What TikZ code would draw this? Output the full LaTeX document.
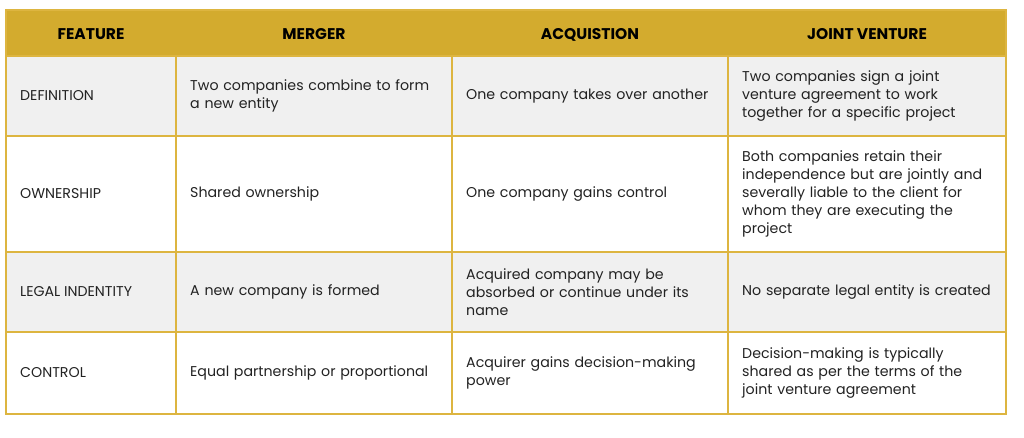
\documentclass[tikz,border=0pt]{standalone}
\usepackage{fontspec}
\setmainfont{Poppins}
\definecolor{gold}{HTML}{D3AB2E}
\definecolor{goldline}{HTML}{DDB540}
\definecolor{rowgray}{HTML}{F0F0F0}
\definecolor{txt}{HTML}{222222}
\begin{document}
\begin{tikzpicture}[x=1pt,y=-1pt,
  cell/.style={anchor=west,align=left,text=txt,font=\fontsize{14.2}{18}\selectfont,inner sep=0pt},
  head/.style={anchor=base,text=black,font=\fontsize{15.5}{18}\selectfont\bfseries,inner sep=0pt}]
\useasboundingbox (0,0) rectangle (1024,437);
\fill[gold] (6,10) rectangle (1006,56);
\fill[rowgray] (6,56) rectangle (1006,136);
\fill[rowgray] (6,252) rectangle (1006,332);
\draw[goldline,line width=1.3pt] (6,10) rectangle (1006,414);
\foreach \y in {56,136,252,332} \draw[goldline,line width=1.3pt] (6,\y) -- (1006,\y);
\foreach \x in {176,452,728} \draw[goldline,line width=1.3pt] (\x,56) -- (\x,414);
\node[head] (h1) at (91,39) {FEATURE};
\node[head] (h2) at (314,39) {MERGER};
\node[head] (h3) at (590,39) {ACQUISTION};
\node[head] (h4) at (867,39) {JOINT VENTURE};
\node[cell] (a1) at (20,96) {DEFINITION};
\node[cell,text width=255pt] (b1) at (190,96) {Two companies combine to form\\a new entity};
\node[cell,text width=258pt] (c1) at (466,96) {One company takes over another};
\node[cell,text width=262pt] (d1) at (742,96) {Two companies sign a joint\\venture agreement to work\\together for a specific project};
\node[cell] (a2) at (20,194) {OWNERSHIP};
\node[cell,text width=255pt] (b2) at (190,194) {Shared ownership};
\node[cell,text width=258pt] (c2) at (466,194) {One company gains control};
\node[cell,text width=262pt] (d2) at (742,194) {Both companies retain their\\independence but are jointly and\\severally liable to the client for\\whom they are executing the\\project};
\node[cell] (a3) at (20,292) {LEGAL INDENTITY};
\node[cell,text width=255pt] (b3) at (190,292) {A new company is formed};
\node[cell,text width=258pt] (c3) at (466,292) {Acquired company may be\\absorbed or continue under its\\name};
\node[cell,text width=262pt] (d3) at (742,292) {No separate legal entity is created};
\node[cell] (a4) at (20,373) {CONTROL};
\node[cell,text width=255pt] (b4) at (190,373) {Equal partnership or proportional};
\node[cell,text width=258pt] (c4) at (466,373) {Acquirer gains decision-making\\power};
\node[cell,text width=262pt] (d4) at (742,373) {Decision-making is typically\\shared as per the terms of the\\joint venture agreement};
\end{tikzpicture}
\end{document}
